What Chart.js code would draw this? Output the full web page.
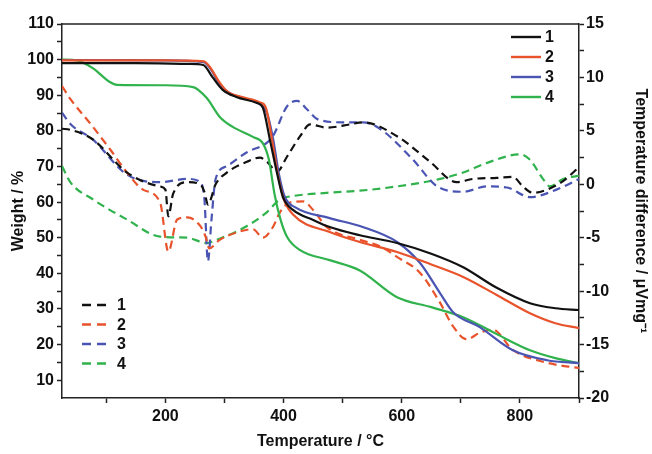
<!DOCTYPE html>
<html lang="en">
<head>
<meta charset="UTF-8">
<title>TGA / DTA</title>
<script src="https://cdn.jsdelivr.net/npm/chart.js"></script>
<style>
    body { margin: 0; background: #fff; }
    #wrap { width: 652px; height: 454px; }
</style>
</head>
<body>
<div id="wrap"><canvas id="grafico" width="652" height="454"></canvas></div>
<script>
// sample labels and colours
const sampleNames = ['1', '2', '3', '4'];
const sampleColours = ['#111111', '#e8532b', '#4a55b3', '#30b24c'];

// tick values
const tempTicks = [100, 200, 300, 400, 500, 600, 700, 800, 900];
const weightTicks = [10, 15, 20, 25, 30, 35, 40, 45, 50, 55, 60, 65, 70, 75, 80, 85, 90, 95, 100, 105, 110];
const dtaTicks = [-20, -17.5, -15, -12.5, -10, -7.5, -5, -2.5, 0, 2.5, 5, 7.5, 10, 12.5, 15];

// TGA curves (weight %)
const tgaTemp1 = [25, 150, 240, 264, 280, 297, 320, 355, 365, 377, 389, 399, 416, 450, 478, 529, 592, 650, 704, 760, 817, 860, 900];
const tgaWeight1 = [99.0, 99.0, 98.8, 98.5, 95, 91.5, 89.5, 87.8, 86.5, 77.4, 68.1, 61.4, 57.8, 55, 53, 50.7, 48.5, 45.5, 41.7, 36, 31.6, 30.2, 29.7];

const tgaTemp2 = [25, 200, 265, 275, 290, 305, 330, 360, 370, 380, 390, 400, 416, 478, 529, 592, 650, 704, 760, 817, 860, 900];
const tgaWeight2 = [99.8, 99.8, 99.5, 98, 94, 91, 89.5, 88, 86.5, 78, 68, 61, 56.5, 51.6, 48.8, 46, 42.5, 39, 34, 28.8, 26, 24.6];

const tgaTemp3 = [25, 200, 265, 278, 292, 310, 340, 360, 372, 382, 392, 402, 420, 478, 534, 592, 631, 665, 687, 732, 788, 846, 900];
const tgaWeight3 = [99.9, 99.8, 99.3, 97, 93, 90.5, 88.8, 87.5, 85, 78, 68, 61.5, 58.5, 55.5, 53, 48.8, 42.9, 34.4, 29.1, 24.9, 18.4, 15.6, 14.8];

const tgaTemp4 = [25, 50, 77, 106, 118, 200, 247, 270, 292, 314, 348, 365, 375, 385, 395, 406, 428, 478, 529, 592, 650, 704, 760, 817, 860, 900];
const tgaWeight4 = [100, 99.8, 97.6, 93.7, 92.9, 92.8, 92.3, 89.2, 83.9, 81.1, 78.3, 76.5, 72, 62, 55, 50.2, 46.5, 43.7, 40.8, 33.3, 30.5, 27.7, 23, 18.4, 16.2, 14.8];

// DTA curves (temperature difference, uV/mg)
const dtaTemp1 = [25, 39, 77, 135, 191, 200, 205, 213, 237, 259, 266, 272, 285, 304, 338, 360, 372, 389, 406, 428, 445, 473, 512, 534, 592, 648, 693, 720, 761, 788, 805, 822, 846, 873, 900];
const dtaValue1 = [5.2, 5.1, 4.2, 1.1, -0.2, -0.5, -3.0, -0.9, 0.2, 0.0, -0.7, -1.9, 0.0, 1.1, 2.1, 2.5, 2.1, 1.2, 2.6, 4.5, 5.6, 5.3, 5.6, 5.8, 4.5, 2.1, 0.2, 0.5, 0.6, 0.7, -0.2, -0.8, -0.5, 0.3, 1.6];

const dtaTemp2 = [25, 39, 77, 106, 135, 162, 191, 205, 220, 237, 259, 268, 274, 292, 321, 348, 365, 382, 394, 411, 433, 450, 473, 529, 563, 592, 631, 665, 687, 710, 732, 754, 788, 846, 900];
const dtaValue2 = [9.2, 8.0, 5.4, 3.3, 1.1, -0.5, -1.7, -6.3, -3.3, -3.1, -3.9, -4.9, -6.0, -5.2, -4.5, -4.2, -5.0, -4.0, -2.6, -1.7, -1.6, -2.4, -4.0, -5.2, -5.8, -6.8, -8.3, -11.1, -13.3, -14.5, -13.9, -13.6, -15.5, -16.7, -17.2];

const dtaTemp3 = [25, 40, 77, 135, 191, 237, 259, 266, 272, 278, 285, 304, 338, 372, 382, 406, 423, 440, 457, 500, 534, 563, 619, 660, 704, 744, 778, 817, 862, 900];
const dtaValue3 = [6.7, 5.6, 4.2, 0.9, 0.2, 0.5, 0.2, -1.4, -7.2, -3.3, 0.5, 1.7, 3.0, 3.9, 4.5, 7.3, 7.8, 7.0, 6.1, 5.8, 5.8, 5.2, 2.3, -0.2, -0.7, -0.2, -0.3, -1.2, -0.5, 0.5];

const dtaTemp4 = [25, 39, 77, 135, 191, 237, 270, 287, 338, 372, 394, 416, 473, 529, 592, 665, 704, 749, 800, 817, 839, 851, 873, 900];
const dtaValue4 = [1.7, 0.2, -1.4, -3.3, -4.9, -5.0, -5.5, -5.2, -3.9, -2.6, -1.4, -1.1, -0.8, -0.6, -0.2, 0.5, 1.1, 2.1, 2.8, 2.3, 0.5, -0.2, 0.5, 0.8];

const tgaTemps = [tgaTemp1, tgaTemp2, tgaTemp3, tgaTemp4];
const tgaWeights = [tgaWeight1, tgaWeight2, tgaWeight3, tgaWeight4];
const dtaTemps = [dtaTemp1, dtaTemp2, dtaTemp3, dtaTemp4];
const dtaValues = [dtaValue1, dtaValue2, dtaValue3, dtaValue4];

function toPoints(xs, ys) {
    return xs.map((x, i) => ({ x: x, y: ys[i] }));
}

const datasets = [];
sampleNames.forEach((name, i) => {
    datasets.push({
        label: 'TG ' + name,
        data: toPoints(tgaTemps[i], tgaWeights[i]),
        yAxisID: 'yW',
        borderColor: sampleColours[i],
        borderWidth: 2.2
    });
});
sampleNames.forEach((name, i) => {
    datasets.push({
        label: 'DTA ' + name,
        data: toPoints(dtaTemps[i], dtaValues[i]),
        yAxisID: 'yD',
        borderColor: sampleColours[i],
        borderWidth: 2.2,
        borderDash: [8, 5]
    });
});

const fuente = { family: '"Liberation Sans", Arial, sans-serif', size: 16, weight: 'bold' };

// frame on top and the two legends inside the plot
const marcoPlugin = {
    id: 'marco',
    afterDatasetsDraw(chart) {
        const { ctx, chartArea: a } = chart;
        ctx.save();
        ctx.strokeStyle = '#222';
        ctx.lineWidth = 1.5;
        ctx.beginPath();
        ctx.moveTo(a.left, a.top);
        ctx.lineTo(a.right, a.top);
        ctx.stroke();

        ctx.font = 'bold 16px "Liberation Sans", Arial, sans-serif';
        ctx.textBaseline = 'middle';
        ctx.textAlign = 'left';
        ctx.lineWidth = 2.4;
        // solid legend, top right
        sampleNames.forEach((name, i) => {
            const y = 37 + i * 20;
            ctx.strokeStyle = sampleColours[i];
            ctx.setLineDash([]);
            ctx.beginPath();
            ctx.moveTo(511, y);
            ctx.lineTo(541, y);
            ctx.stroke();
            ctx.fillStyle = '#111';
            ctx.fillText(name, 545, y + 1);
        });
        // dashed legend, bottom left
        sampleNames.forEach((name, i) => {
            const y = 305 + i * 19.5;
            ctx.strokeStyle = sampleColours[i];
            ctx.setLineDash([9, 6]);
            ctx.beginPath();
            ctx.moveTo(82, y);
            ctx.lineTo(111, y);
            ctx.stroke();
            ctx.fillStyle = '#111';
            ctx.fillText(name, 117, y + 1);
        });
        ctx.restore();
    }
};

new Chart(document.getElementById('grafico').getContext('2d'), {
    type: 'line',
    data: { datasets: datasets },
    plugins: [marcoPlugin],
    options: {
        responsive: false,
        animation: false,
        layout: { padding: { top: 24, left: 0, right: 0, bottom: 0 } },
        elements: {
            point: { radius: 0 },
            line: { cubicInterpolationMode: 'monotone', fill: false }
        },
        plugins: {
            legend: { display: false },
            tooltip: { enabled: false }
        },
        scales: {
            x: {
                type: 'linear',
                min: 25,
                max: 900,
                afterBuildTicks: (s) => { s.ticks = tempTicks.map(v => ({ value: v })); },
                afterFit: (s) => { s.height = 56; },
                grid: { drawOnChartArea: false, drawTicks: true, tickLength: 5, tickColor: '#222', tickWidth: 1.5 },
                border: { display: true, color: '#222', width: 1.5 },
                ticks: {
                    autoSkip: false,
                    maxRotation: 0,
                    padding: 4,
                    color: '#111',
                    font: fuente,
                    callback: (v) => (v % 200 === 0 ? String(v) : '')
                },
                title: {
                    display: true,
                    text: 'Temperature / °C',
                    color: '#111',
                    font: fuente,
                    padding: { top: 0, bottom: 3 }
                }
            },
            yW: {
                type: 'linear',
                position: 'left',
                min: 5,
                max: 110,
                afterBuildTicks: (s) => { s.ticks = weightTicks.map(v => ({ value: v })); },
                afterFit: (s) => { s.width = 62; },
                grid: { drawOnChartArea: false, drawTicks: true, tickLength: 5, tickColor: '#222', tickWidth: 1.5 },
                border: { display: true, color: '#222', width: 1.5 },
                ticks: {
                    autoSkip: false,
                    padding: 3,
                    color: '#111',
                    font: fuente,
                    callback: (v) => (v % 10 === 0 ? String(v) : '')
                },
                title: {
                    display: true,
                    text: 'Weight / %',
                    color: '#111',
                    font: fuente,
                    padding: { top: 9, bottom: 0 }
                }
            },
            yD: {
                type: 'linear',
                position: 'right',
                min: -20,
                max: 15,
                afterBuildTicks: (s) => { s.ticks = dtaTicks.map(v => ({ value: v })); },
                afterFit: (s) => { s.width = 73; },
                grid: { drawOnChartArea: false, drawTicks: true, tickLength: 5, tickColor: '#222', tickWidth: 1.5 },
                border: { display: true, color: '#222', width: 1.5 },
                ticks: {
                    autoSkip: false,
                    padding: 2,
                    color: '#111',
                    font: fuente,
                    callback: (v) => (v % 5 === 0 ? String(v) : '')
                },
                title: {
                    display: true,
                    text: 'Temperature difference / μVmg⁻¹',
                    color: '#111',
                    font: fuente,
                    padding: { top: 2, bottom: 0 }
                }
            }
        }
    }
});
</script>
</body>
</html>
